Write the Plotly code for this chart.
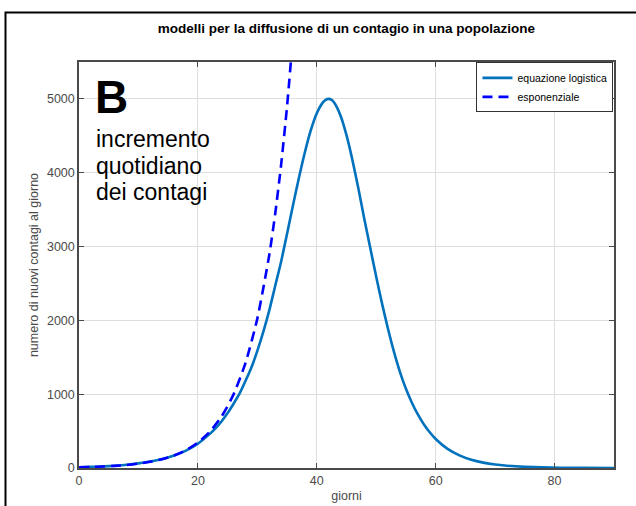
import plotly.graph_objects as go

# giorni / nuovi contagi (equazione logistica)
days_log = [0, 2, 4, 6, 8, 10, 12, 14, 16, 18, 20, 22, 23, 24, 25, 26, 27, 28, 29, 30,
            31, 32, 33, 34, 35, 36, 37, 38, 39, 40, 41, 41.5, 42, 42.5, 43, 44, 45, 46, 47,
            48, 49, 50, 51, 52, 53, 54, 55, 56, 57, 58, 59, 60, 62, 64, 66, 68, 70, 72,
            75, 78, 81, 85, 90]
vals_log = [10, 15, 21, 31, 44, 63, 87, 121, 169, 236, 330, 462, 541, 634, 744, 871,
            1007, 1178, 1361, 1587, 1844, 2132, 2466, 2795, 3174, 3558, 3932, 4278, 4576,
            4805, 4950, 4988, 5000, 4986, 4942, 4773, 4509, 4171, 3785, 3373, 2980, 2590,
            2220, 1880, 1570, 1300, 1073, 884, 725, 593, 484, 393, 259, 171, 111, 73, 47,
            31, 16, 8, 4, 2, 1]

# esponenziale
days_exp = [0, 2, 4, 6, 8, 10, 12, 14, 16, 18, 20, 22, 24, 26, 28, 30, 32, 33, 34, 35, 36]
vals_exp = [10, 14, 20, 29, 41, 59, 84, 119, 170, 242, 345, 491, 700, 997, 1420, 2024,
            2883, 3440, 4107, 4900, 5850]

x_ticks = [0, 20, 40, 60, 80]
y_ticks = [0, 1000, 2000, 3000, 4000, 5000]

FONT = "Liberation Sans, Arial, sans-serif"
AX = "#4a4a4a"

fig = go.Figure()
fig.add_trace(go.Scatter(x=days_log, y=vals_log, mode="lines", name="equazione logistica",
                         line=dict(color="#0072BD", width=2.6, shape="spline", smoothing=0.6)))
fig.add_trace(go.Scatter(x=days_exp, y=vals_exp, mode="lines", name="esponenziale",
                         line=dict(color="#0000FF", width=2.6, dash="10px,6px",
                                   shape="spline", smoothing=0.6)))

axis_common = dict(showline=True, linecolor=AX, linewidth=1.5, mirror="ticks",
                   ticks="inside", ticklen=5, tickcolor=AX, tickwidth=1,
                   showgrid=True, gridcolor="#dedede", gridwidth=1, zeroline=False,
                   tickfont=dict(family=FONT, size=12.5, color=AX))

fig.update_xaxes(range=[0, 90], tickvals=x_ticks,
                 title=dict(text="giorni", font=dict(family=FONT, size=12.5, color=AX), standoff=4),
                 **axis_common)
fig.update_yaxes(range=[0, 5500], tickvals=y_ticks,
                 title=dict(text="numero di nuovi contagi al giorno",
                            font=dict(family=FONT, size=12.5, color=AX), standoff=6),
                 **axis_common)

fig.update_layout(
    width=636, height=506,
    margin=dict(l=79, r=22, t=62, b=38, autoexpand=False),
    paper_bgcolor="white", plot_bgcolor="white",
    title=dict(text="<b>modelli per la diffusione di un contagio in una popolazione</b>",
               x=0.5, xref="paper", y=1 - 28 / 506, yanchor="middle",
               font=dict(family=FONT, size=13.5, color="#000")),
    legend=dict(x=0.999, y=0.999, xanchor="right", yanchor="top",
                bgcolor="white", bordercolor="#333", borderwidth=1,
                font=dict(family=FONT, size=10.5, color="#000"),
                itemwidth=30, tracegroupgap=0),
    showlegend=True,
)

# pannello "B" e descrizione
fig.add_annotation(text="<b>B</b>", xref="paper", yref="paper", x=(93 - 79) / 535,
                   y=(468 - 97) / 406, xanchor="left", yanchor="middle", showarrow=False,
                   font=dict(family=FONT, size=46, color="#000"))
for i, line in enumerate(["incremento", "quotidiano", "dei contagi"]):
    fig.add_annotation(text=line, xref="paper", yref="paper", x=(94 - 79) / 535,
                       y=(468 - (139 + 26.5 * i)) / 406, xanchor="left", yanchor="middle",
                       showarrow=False, font=dict(family=FONT, size=23, color="#000"))

# cornice esterna
fig.add_shape(type="rect", xref="paper", yref="paper",
              x0=(5.5 - 79) / 535, y0=-0.3, x1=1.2, y1=(468 - 12.5) / 406,
              line=dict(color="#000", width=2), fillcolor="rgba(0,0,0,0)", layer="above")

fig.write_html("out.html", config={"displayModeBar": False},
               post_script="document.body.style.margin='0';document.body.style.overflow='hidden';")
